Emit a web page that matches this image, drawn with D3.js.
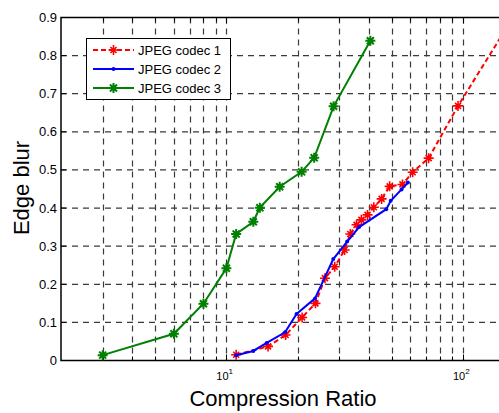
<!DOCTYPE html>
<html>
<head>
	<meta charset="utf-8">
	<script src="https://cdnjs.cloudflare.com/ajax/libs/d3/7.8.5/d3.min.js"></script>
	<style>
		body { margin: 0; background: #fff; }
		svg { display: block; font-family: Arial, "Liberation Sans", sans-serif; }
	</style>
</head>
<body>
	<svg width="499" height="413"></svg>
	<script>
		// data
		let codec1X = [11, 15, 17.8, 20.9, 23.8, 26.1, 28.7, 31.6, 33.4, 35.5, 37.2, 39.5, 42, 45.3, 49, 55.5, 61.3, 71.6, 95.3, 150];
		let codec1Y = [0.015, 0.037, 0.067, 0.113, 0.150, 0.216, 0.246, 0.290, 0.332, 0.356, 0.369, 0.382, 0.402, 0.424, 0.457, 0.462, 0.494, 0.531, 0.668, 0.865];
		let codec2X = [11, 13, 14.8, 17.7, 19.8, 23.7, 28.3, 32.4, 36.4, 47.4, 49.5, 55, 58.5];
		let codec2Y = [0.014, 0.025, 0.046, 0.074, 0.122, 0.163, 0.266, 0.312, 0.350, 0.397, 0.419, 0.449, 0.467];
		let codec3X = [3, 6, 8, 10, 11, 13, 13.85, 16.8, 20.8, 23.5, 28.4, 40.6];
		let codec3Y = [0.014, 0.070, 0.149, 0.242, 0.332, 0.364, 0.401, 0.456, 0.495, 0.532, 0.667, 0.839];
		let seriesNames = ["JPEG codec 1", "JPEG codec 2", "JPEG codec 3"];
		let yTicks = [0, 0.1, 0.2, 0.3, 0.4, 0.5, 0.6, 0.7, 0.8, 0.9];
		let xGrid = [3, 4, 5, 6, 7, 8, 9, 10, 20, 30, 40, 50, 60, 70, 80, 90, 100];
		let xLabels = [10, 100];

		let svg = d3.select("svg");
		let pl = 61, pr = 499, pt = 17.5, pb = 360.5;

		let x = d3.scaleLog().domain([2, 142]).range([pl, pr]);
		let y = d3.scaleLinear().domain([0, 0.9]).range([pb, pt]);

		let series = [
			{name: seriesNames[0], xs: codec1X, ys: codec1Y, color: "#ff0000", dash: "5,3", marker: "plus"},
			{name: seriesNames[1], xs: codec2X, ys: codec2Y, color: "#0000ff", dash: null, marker: "dot"},
			{name: seriesNames[2], xs: codec3X, ys: codec3Y, color: "#008000", dash: null, marker: "star"}
		];

		//grid
		let grid = svg.append("g").attr("stroke", "#3a3a3a").attr("stroke-width", 1.2).attr("stroke-dasharray", "6,5");
		grid.selectAll(".gx").data(xGrid).enter().append("line")
			.attr("x1", d => Math.round(x(d)) + 0.5).attr("x2", d => Math.round(x(d)) + 0.5)
			.attr("y1", pt).attr("y2", pb);
		grid.selectAll(".gy").data(yTicks.slice(1)).enter().append("line")
			.attr("x1", pl).attr("x2", pr)
			.attr("y1", d => y(d)).attr("y2", d => y(d));

		//ticks
		let ticks = svg.append("g").attr("stroke", "#000").attr("stroke-width", 1);
		ticks.selectAll(".tb").data(xGrid).enter().append("line")
			.attr("x1", d => Math.round(x(d)) + 0.5).attr("x2", d => Math.round(x(d)) + 0.5)
			.attr("y1", pb).attr("y2", d => pb - (xLabels.includes(d) ? 6 : 4));
		ticks.selectAll(".tt").data(xGrid).enter().append("line")
			.attr("x1", d => Math.round(x(d)) + 0.5).attr("x2", d => Math.round(x(d)) + 0.5)
			.attr("y1", pt).attr("y2", d => pt + (xLabels.includes(d) ? 6 : 4));
		ticks.selectAll(".tl").data(yTicks).enter().append("line")
			.attr("x1", pl).attr("x2", pl + 5)
			.attr("y1", d => y(d)).attr("y2", d => y(d));

		//axis box
		svg.append("path")
			.attr("d", "M" + pr + "," + pt + "H" + pl + "V" + pb + "H" + pr)
			.attr("fill", "none").attr("stroke", "#000").attr("stroke-width", 1.5);

		//tick labels
		svg.append("g").selectAll("text").data(yTicks).enter().append("text")
			.attr("x", pl - 4).attr("y", d => y(d)).attr("dy", "0.35em")
			.attr("text-anchor", "end").attr("font-size", 13)
			.text(d => d === 0 ? "0" : d3.format(".1f")(d));
		let xl = svg.append("g").selectAll("text").data(xLabels).enter().append("text")
			.attr("x", d => x(d) - 10).attr("y", 380).attr("font-size", 11);
		xl.append("tspan").text("10");
		xl.append("tspan").attr("dy", -6).attr("font-size", 8).text(d => Math.round(Math.log10(d)));

		//axis titles
		svg.append("text").attr("x", 283).attr("y", 406).attr("text-anchor", "middle")
			.attr("font-size", 22).text("Compression Ratio");
		svg.append("text").attr("transform", "translate(29,188) rotate(-90)").attr("text-anchor", "middle")
			.attr("font-size", 22).text("Edge blur");

		//markers
		function drawMarker(g, type, color) {
			if (type === "plus") {
				g.append("path").attr("d", "M-5,0H5M0,-5V5M-3,-3L3,3M-3,3L3,-3")
					.attr("stroke", color).attr("stroke-width", 1.6).attr("fill", "none");
			} else if (type === "dot") {
				g.append("circle").attr("r", 2).attr("fill", color);
			} else {
				g.append("path").attr("d", "M-5,0H5M0,-5V5M-3.5,-3.5L3.5,3.5M-3.5,3.5L3.5,-3.5")
					.attr("stroke", color).attr("stroke-width", 2).attr("fill", "none");
				g.append("circle").attr("r", 2.5).attr("fill", color);
			}
		}

		let line = d3.line().x(d => x(d[0])).y(d => y(d[1]));
		series.forEach(function(s) {
			let pts = s.xs.map((v, i) => [v, s.ys[i]]);
			svg.append("path").datum(pts)
				.attr("d", line).attr("fill", "none")
				.attr("stroke", s.color).attr("stroke-width", 2)
				.attr("stroke-dasharray", s.dash);
			pts.forEach(function(p) {
				let g = svg.append("g").attr("transform", "translate(" + x(p[0]) + "," + y(p[1]) + ")");
				drawMarker(g, s.marker, s.color);
			});
		});

		//legend
		let legend = svg.append("g");
		legend.append("rect").attr("x", 86.5).attr("y", 38.5).attr("width", 144).attr("height", 61)
			.attr("fill", "#fff").attr("stroke", "#000").attr("stroke-width", 1);
		series.forEach(function(s, i) {
			let ly = 50 + i * 19;
			legend.append("line").attr("x1", 93).attr("x2", 134).attr("y1", ly).attr("y2", ly)
				.attr("stroke", s.color).attr("stroke-width", 2).attr("stroke-dasharray", s.dash);
			drawMarker(legend.append("g").attr("transform", "translate(113.5," + ly + ")"), s.marker, s.color);
			legend.append("text").attr("x", 138).attr("y", ly).attr("dy", "0.35em")
				.attr("font-size", 13).text(s.name);
		});
	</script>
</body>
</html>
